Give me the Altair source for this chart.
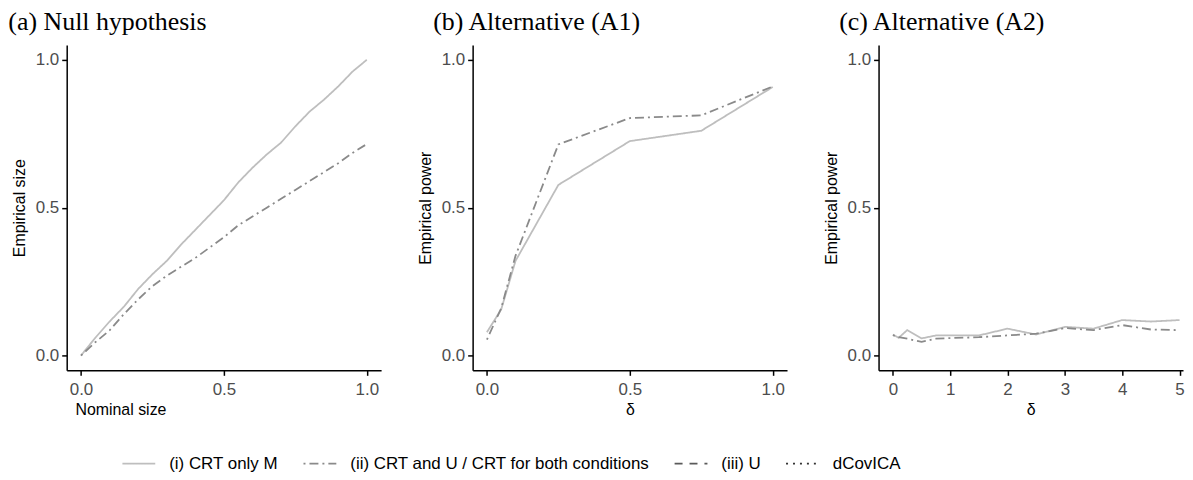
import altair as alt
import pandas as pd

methods = ["(i) CRT only M", "(ii) CRT and U / CRT for both conditions", "(iii) U", "dCovICA"]
colors = ["#BEBEBE", "#8A8A8A", "#5A5A5A", "#333333"]
dashes = [[1, 0], [2, 4, 9, 4], [8, 7], [2, 5]]

# Panel (a): Null hypothesis
a_x = [0.0, 0.05, 0.1, 0.15, 0.2, 0.25, 0.3, 0.35, 0.4, 0.45, 0.5,
       0.55, 0.6, 0.65, 0.7, 0.75, 0.8, 0.85, 0.9, 0.95, 1.0]
a_crt_m = [0.0, 0.06, 0.115, 0.165, 0.225, 0.275, 0.32, 0.375, 0.425, 0.475, 0.525,
           0.585, 0.635, 0.68, 0.72, 0.775, 0.825, 0.865, 0.91, 0.96, 1.0]
a_crt_u = [0.0, 0.045, 0.085, 0.14, 0.19, 0.235, 0.27, 0.30, 0.33, 0.365, 0.40,
           0.44, 0.47, 0.50, 0.53, 0.56, 0.59, 0.62, 0.65, 0.685, 0.715]

# Panel (b): Alternative (A1)
b_x = [0.0, 0.05, 0.1, 0.25, 0.5, 0.75, 1.0]
b_crt_m = [0.079, 0.156, 0.32, 0.577, 0.725, 0.76, 0.908]
b_crt_u = [0.054, 0.16, 0.337, 0.714, 0.803, 0.812, 0.91]

# Panel (c): Alternative (A2)
c_x = [0, 0.1, 0.25, 0.5, 0.75, 1, 1.5, 2, 2.5, 3, 3.5, 4, 4.5, 5]
c_crt_m = [0.071, 0.060, 0.086, 0.058, 0.068, 0.068, 0.068, 0.091, 0.071, 0.097, 0.091, 0.120, 0.115, 0.120]
c_crt_u = [0.069, 0.062, 0.057, 0.046, 0.057, 0.059, 0.062, 0.068, 0.074, 0.093, 0.086, 0.103, 0.088, 0.086]

y_ticks = [0, 0.5, 1.0]
ab_x_ticks = [0, 0.5, 1.0]
c_x_ticks = [0, 1, 2, 3, 4, 5]


def frame(xs, m, u):
    rows = [{"x": x, "y": y, "method": methods[0]} for x, y in zip(xs, m)]
    rows += [{"x": x, "y": y, "method": methods[1]} for x, y in zip(xs, u)]
    return pd.DataFrame(rows)


SANS = "Liberation Sans"

common_axis = dict(
    grid=False, domainColor="black", domainWidth=1.5, tickColor="black",
    tickWidth=1.5, tickSize=5, labelColor="#4D4D4D", labelFontSize=17,
    labelFont=SANS, titleFont=SANS, titleFontSize=16, titleFontWeight="normal",
    titleColor="black",
)

legend = alt.Legend(
    orient="none", legendX=55, legendY=403, direction="horizontal", columns=4,
    title=None, labelFontSize=17, labelFont=SANS, labelColor="black",
    symbolType="stroke", symbolSize=1089, symbolStrokeWidth=1.8,
    labelOffset=13, columnPadding=21, labelLimit=600,
)


def panel(df, title, dx, xtitle, xtitle_x, ytitle, xdomain, xticks, xfmt, width):
    xaxis_kw = dict(title=xtitle, values=xticks, format=xfmt,
                    labelPadding=6, titlePadding=4, **common_axis)
    if xtitle_x is not None:
        xaxis_kw["titleX"] = xtitle_x
    return alt.Chart(df).mark_line(strokeWidth=1.8, clip=True).encode(
        x=alt.X("x:Q", scale=alt.Scale(domain=xdomain, nice=False, zero=False),
                axis=alt.Axis(**xaxis_kw)),
        y=alt.Y("y:Q", scale=alt.Scale(domain=[-0.05, 1.05], nice=False),
                axis=alt.Axis(title=ytitle, values=y_ticks, format=".1f",
                              labelPadding=3, titlePadding=8, **common_axis)),
        color=alt.Color("method:N", scale=alt.Scale(domain=methods, range=colors), legend=legend),
        strokeDash=alt.StrokeDash("method:N", scale=alt.Scale(domain=methods, range=dashes), legend=legend),
    ).properties(
        width=width, height=327,
        title=alt.TitleParams(title, anchor="start", font="Liberation Serif", fontSize=26,
                              fontWeight="normal", color="black", offset=10, dx=dx),
    )


pa = panel(frame(a_x, a_crt_m, a_crt_u), "(a) Null hypothesis", -3, "Nominal size", 54,
           "Empirical size", [-0.05, 1.05], ab_x_ticks, ".1f", 316)
pb = panel(frame(b_x, b_crt_m, b_crt_u), "(b) Alternative (A1)", 16, "δ", None,
           "Empirical power", [-0.05, 1.05], ab_x_ticks, ".1f", 316)
pc = panel(frame(c_x, c_crt_m, c_crt_u), "(c) Alternative (A2)", 16, "δ", None,
           "Empirical power", [-0.25, 5.06], c_x_ticks, "d", 306)

chart = alt.hconcat(pa, pb, pc, spacing=36).resolve_scale(
    color="shared", strokeDash="shared"
).properties(
    padding={"left": 0, "top": 0, "right": 0, "bottom": 0},
    background="white",
).configure_view(stroke=None)

chart.save("out.html", embed_options={"renderer": "svg", "actions": False})
